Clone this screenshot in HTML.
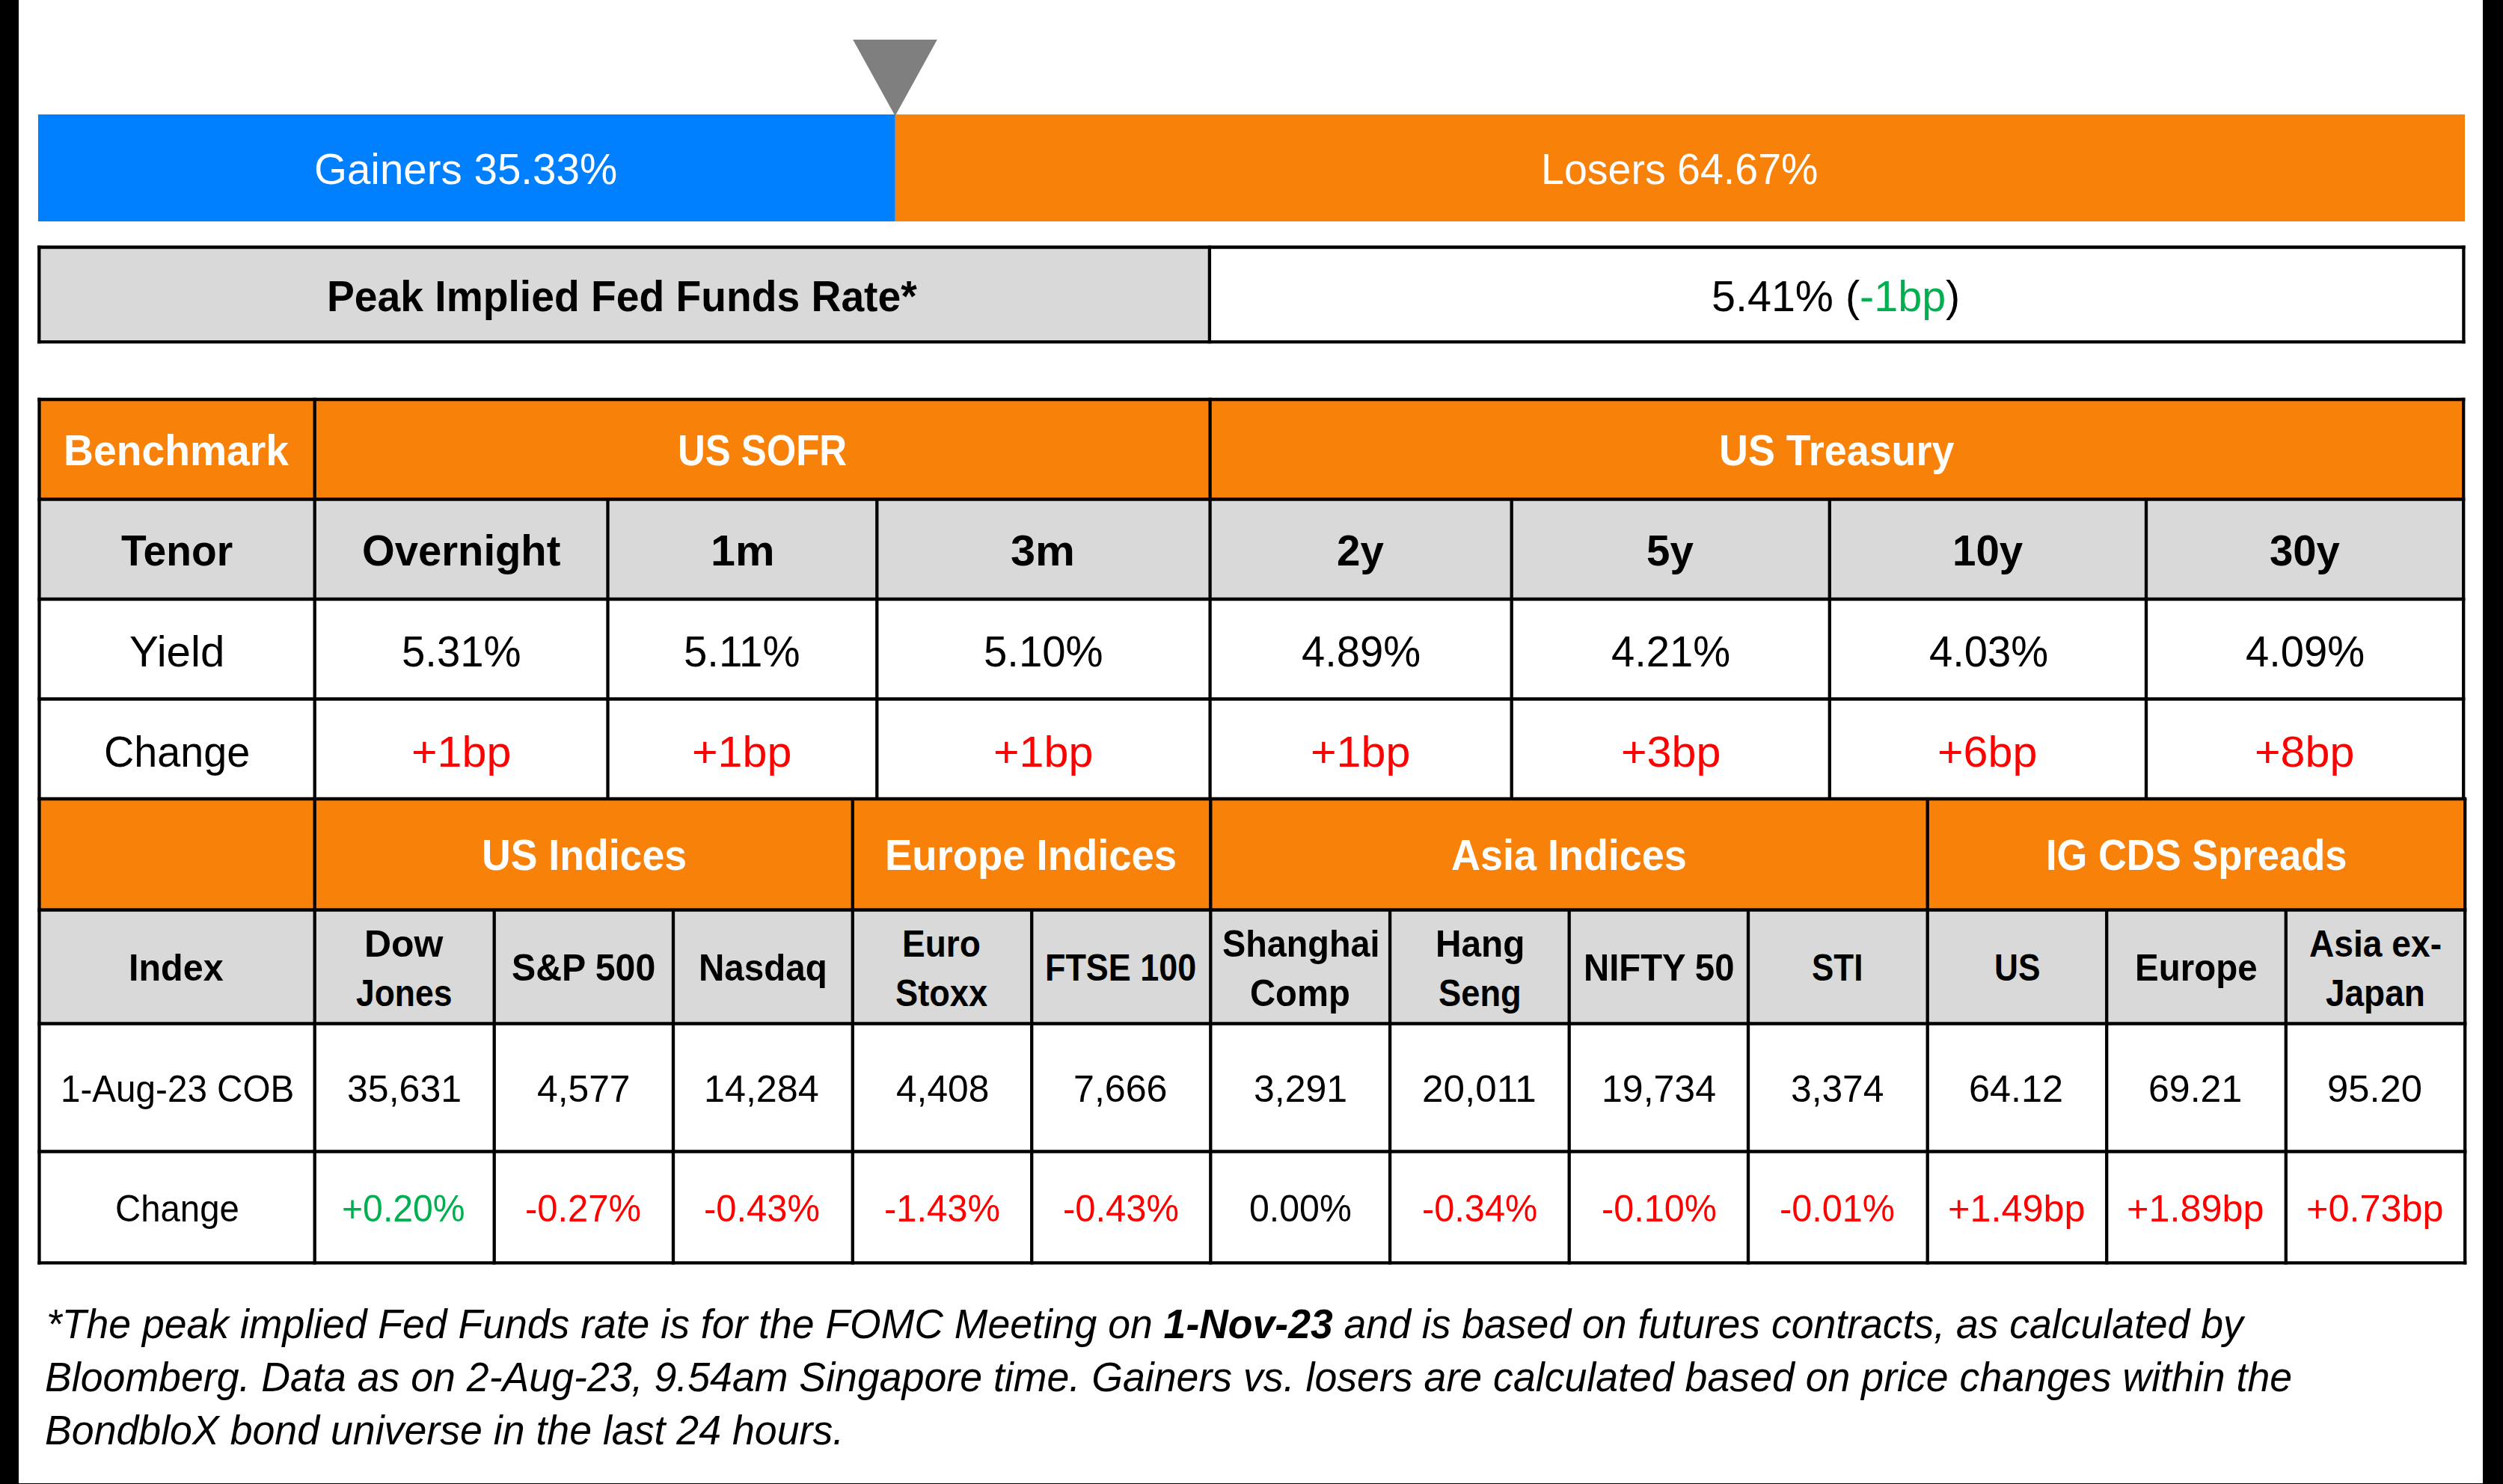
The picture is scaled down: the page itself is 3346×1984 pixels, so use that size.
<!DOCTYPE html>
<html><head><meta charset="utf-8"><title>Market summary</title>
<style>
html,body{margin:0;padding:0;background:#fff}
body{width:3346px;height:1984px;position:relative;overflow:hidden;font-family:"Liberation Sans",sans-serif;color:#000}
svg{position:absolute;left:0;top:0}
.t{position:absolute;white-space:nowrap;line-height:1;transform-origin:0 0;font-weight:400}
.b{font-weight:700}.i{font-style:italic}.w{color:#fff}.g{color:#00B050}.r{color:#FF0000}
</style></head>
<body>
<svg width="3346" height="1984" viewBox="0 0 3346 1984">
<rect x="0.00" y="0.00" width="25.00" height="1984.00" fill="#000"/>
<rect x="3319.00" y="0.00" width="27.00" height="1984.00" fill="#000"/>
<rect x="0.00" y="1983.00" width="3346.00" height="1.00" fill="#000"/>
<rect x="51.00" y="153.00" width="1145.80" height="143.00" fill="#0080FF"/>
<rect x="1196.80" y="153.00" width="2098.20" height="143.00" fill="#F8810A"/>
<polygon points="1140.2,53 1252.8,53 1196.6,155" fill="#7F7F7F"/>
<rect x="52.30" y="330.50" width="1564.60" height="126.60" fill="#D9D9D9"/>
<rect x="52.50" y="534.00" width="3240.70" height="133.50" fill="#F8810A"/>
<rect x="52.50" y="667.50" width="3240.70" height="133.50" fill="#D9D9D9"/>
<rect x="52.50" y="1068.00" width="3242.70" height="148.50" fill="#F8810A"/>
<rect x="52.50" y="1216.50" width="3242.70" height="152.00" fill="#D9D9D9"/>
<g stroke="#000" stroke-width="4.3" fill="none" stroke-linecap="butt">
<path d="M50.15 330.50L3295.55 330.50"/>
<path d="M50.15 457.10L3295.55 457.10"/>
<path d="M52.30 328.35L52.30 459.25"/>
<path d="M1616.90 328.35L1616.90 459.25"/>
<path d="M3293.40 328.35L3293.40 459.25"/>
<path d="M50.35 534.00L3295.35 534.00"/>
<path d="M50.35 667.50L3295.35 667.50"/>
<path d="M50.35 801.00L3295.35 801.00"/>
<path d="M50.35 934.50L3295.35 934.50"/>
<path d="M50.35 1068.00L3297.35 1068.00"/>
<path d="M52.50 531.85L52.50 1068.00"/>
<path d="M420.70 531.85L420.70 1068.00"/>
<path d="M812.50 667.50L812.50 1068.00"/>
<path d="M1172.30 667.50L1172.30 1068.00"/>
<path d="M1617.60 531.85L1617.60 1068.00"/>
<path d="M2020.70 667.50L2020.70 1068.00"/>
<path d="M2445.80 667.50L2445.80 1068.00"/>
<path d="M2869.00 667.50L2869.00 1068.00"/>
<path d="M3293.20 531.85L3293.20 1068.00"/>
<path d="M50.35 1216.50L3297.35 1216.50"/>
<path d="M50.35 1368.50L3297.35 1368.50"/>
<path d="M50.35 1539.50L3297.35 1539.50"/>
<path d="M50.35 1688.30L3297.35 1688.30"/>
<path d="M52.50 1068.00L52.50 1690.45"/>
<path d="M420.70 1068.00L420.70 1690.45"/>
<path d="M660.70 1216.50L660.70 1690.45"/>
<path d="M900.00 1216.50L900.00 1690.45"/>
<path d="M1139.80 1068.00L1139.80 1690.45"/>
<path d="M1379.20 1216.50L1379.20 1690.45"/>
<path d="M1618.30 1068.00L1618.30 1690.45"/>
<path d="M1858.10 1216.50L1858.10 1690.45"/>
<path d="M2097.70 1216.50L2097.70 1690.45"/>
<path d="M2337.00 1216.50L2337.00 1690.45"/>
<path d="M2576.70 1068.00L2576.70 1690.45"/>
<path d="M2816.20 1216.50L2816.20 1690.45"/>
<path d="M3055.80 1216.50L3055.80 1690.45"/>
<path d="M3295.20 1068.00L3295.20 1690.45"/>
</g>
</svg>
<div class="t w" style="left:420.45px;top:197px;font-size:58px;transform:scaleX(0.9741)">Gainers 35.33%</div>
<div class="t w" style="left:2060.48px;top:197px;font-size:58px;transform:scaleX(0.9574)">Losers 64.67%</div>
<div class="t b" style="left:437.48px;top:367px;font-size:58px;transform:scaleX(0.9522)">Peak Implied Fed Funds Rate*</div>
<div class="t" style="left:2288.31px;top:367px;font-size:58px;transform:scaleX(0.9909)">5.41% (<span class="g">-1bp</span>)</div>
<div class="t b w" style="left:85.08px;top:573px;font-size:58px;transform:scaleX(0.9529)">Benchmark</div>
<div class="t b w" style="left:906.19px;top:573px;font-size:58px;transform:scaleX(0.8767)">US SOFR</div>
<div class="t b w" style="left:2298.06px;top:573px;font-size:58px;transform:scaleX(0.9289)">US Treasury</div>
<div class="t b" style="left:161.73px;top:707px;font-size:58px;transform:scaleX(0.9509)">Tenor</div>
<div class="t b" style="left:484.02px;top:707px;font-size:58px;transform:scaleX(0.9687)">Overnight</div>
<div class="t b" style="left:949.59px;top:707px;font-size:58px;transform:scaleX(1.0192)">1m</div>
<div class="t b" style="left:1351.25px;top:707px;font-size:58px;transform:scaleX(1.0252)">3m</div>
<div class="t b" style="left:1787.38px;top:707px;font-size:58px;transform:scaleX(0.9727)">2y</div>
<div class="t b" style="left:2200.89px;top:707px;font-size:58px;transform:scaleX(0.9738)">5y</div>
<div class="t b" style="left:2610.21px;top:707px;font-size:58px;transform:scaleX(0.9732)">10y</div>
<div class="t b" style="left:3033.71px;top:707px;font-size:58px;transform:scaleX(0.9706)">30y</div>
<div class="t" style="left:173.35px;top:842px;font-size:58px;transform:scaleX(1.0037)">Yield</div>
<div class="t" style="left:536.69px;top:842px;font-size:58px;transform:scaleX(0.9706)">5.31%</div>
<div class="t" style="left:914.18px;top:842px;font-size:58px;transform:scaleX(0.9711)">5.11%</div>
<div class="t" style="left:1315.09px;top:842px;font-size:58px;transform:scaleX(0.9706)">5.10%</div>
<div class="t" style="left:1739.61px;top:842px;font-size:58px;transform:scaleX(0.9681)">4.89%</div>
<div class="t" style="left:2154.00px;top:842px;font-size:58px;transform:scaleX(0.9681)">4.21%</div>
<div class="t" style="left:2578.60px;top:842px;font-size:58px;transform:scaleX(0.9681)">4.03%</div>
<div class="t" style="left:3002.41px;top:842px;font-size:58px;transform:scaleX(0.9681)">4.09%</div>
<div class="t" style="left:138.70px;top:976px;font-size:58px;transform:scaleX(0.9607)">Change</div>
<div class="t r" style="left:549.94px;top:976px;font-size:58px;transform:scaleX(1.0204)">+1bp</div>
<div class="t r" style="left:925.13px;top:976px;font-size:58px;transform:scaleX(1.0204)">+1bp</div>
<div class="t r" style="left:1328.33px;top:976px;font-size:58px;transform:scaleX(1.0204)">+1bp</div>
<div class="t r" style="left:1752.13px;top:976px;font-size:58px;transform:scaleX(1.0204)">+1bp</div>
<div class="t r" style="left:2166.53px;top:976px;font-size:58px;transform:scaleX(1.0204)">+3bp</div>
<div class="t r" style="left:2590.13px;top:976px;font-size:58px;transform:scaleX(1.0204)">+6bp</div>
<div class="t r" style="left:3013.93px;top:976px;font-size:58px;transform:scaleX(1.0204)">+8bp</div>
<div class="t b w" style="left:643.52px;top:1114px;font-size:58px;transform:scaleX(0.9240)">US Indices</div>
<div class="t b w" style="left:1183.08px;top:1114px;font-size:58px;transform:scaleX(0.9383)">Europe Indices</div>
<div class="t b w" style="left:1939.94px;top:1114px;font-size:58px;transform:scaleX(0.9302)">Asia Indices</div>
<div class="t b w" style="left:2734.54px;top:1114px;font-size:58px;transform:scaleX(0.9046)">IG CDS Spreads</div>
<div class="t b" style="left:172.49px;top:1269px;font-size:49.5px;transform:scaleX(0.9794)">Index</div>
<div class="t b" style="left:487.12px;top:1237px;font-size:49.5px;transform:scaleX(1.0096)">Dow</div>
<div class="t b" style="left:476.13px;top:1303px;font-size:49.5px;transform:scaleX(0.8978)">Jones</div>
<div class="t b" style="left:683.96px;top:1269px;font-size:49.5px;transform:scaleX(0.9747)">S&amp;P 500</div>
<div class="t b" style="left:933.53px;top:1269px;font-size:49.5px;transform:scaleX(0.9607)">Nasdaq</div>
<div class="t b" style="left:1205.93px;top:1237px;font-size:49.5px;transform:scaleX(0.9295)">Euro</div>
<div class="t b" style="left:1197.00px;top:1303px;font-size:49.5px;transform:scaleX(0.9126)">Stoxx</div>
<div class="t b" style="left:1397.40px;top:1269px;font-size:49.5px;transform:scaleX(0.9069)">FTSE 100</div>
<div class="t b" style="left:1633.77px;top:1237px;font-size:49.5px;transform:scaleX(0.9446)">Shanghai</div>
<div class="t b" style="left:1671.41px;top:1303px;font-size:49.5px;transform:scaleX(0.9544)">Comp</div>
<div class="t b" style="left:1918.87px;top:1237px;font-size:49.5px;transform:scaleX(0.9649)">Hang</div>
<div class="t b" style="left:1923.19px;top:1303px;font-size:49.5px;transform:scaleX(0.9148)">Seng</div>
<div class="t b" style="left:2117.01px;top:1269px;font-size:49.5px;transform:scaleX(0.9550)">NIFTY 50</div>
<div class="t b" style="left:2422.03px;top:1269px;font-size:49.5px;transform:scaleX(0.8874)">STI</div>
<div class="t b" style="left:2665.80px;top:1269px;font-size:49.5px;transform:scaleX(0.8933)">US</div>
<div class="t b" style="left:2854.15px;top:1269px;font-size:49.5px;transform:scaleX(0.9591)">Europe</div>
<div class="t b" style="left:3086.65px;top:1237px;font-size:49.5px;transform:scaleX(0.9323)">Asia ex-</div>
<div class="t b" style="left:3108.79px;top:1303px;font-size:49.5px;transform:scaleX(0.9283)">Japan</div>
<div class="t" style="left:80.66px;top:1431px;font-size:49.5px;transform:scaleX(0.9619)">1-Aug-23 COB</div>
<div class="t" style="left:464.05px;top:1431px;font-size:49.5px;transform:scaleX(1.0109)">35,631</div>
<div class="t" style="left:717.51px;top:1431px;font-size:49.5px;transform:scaleX(1.0055)">4,577</div>
<div class="t" style="left:940.92px;top:1431px;font-size:49.5px;transform:scaleX(1.0154)">14,284</div>
<div class="t" style="left:1197.52px;top:1431px;font-size:49.5px;transform:scaleX(1.0034)">4,408</div>
<div class="t" style="left:1435.28px;top:1431px;font-size:49.5px;transform:scaleX(1.0131)">7,666</div>
<div class="t" style="left:1676.05px;top:1431px;font-size:49.5px;transform:scaleX(1.0098)">3,291</div>
<div class="t" style="left:1900.62px;top:1431px;font-size:49.5px;transform:scaleX(1.0341)">20,011</div>
<div class="t" style="left:2140.81px;top:1431px;font-size:49.5px;transform:scaleX(1.0103)">19,734</div>
<div class="t" style="left:2394.06px;top:1431px;font-size:49.5px;transform:scaleX(1.0035)">3,374</div>
<div class="t" style="left:2632.46px;top:1431px;font-size:49.5px;transform:scaleX(1.0171)">64.12</div>
<div class="t" style="left:2871.90px;top:1431px;font-size:49.5px;transform:scaleX(1.0109)">69.21</div>
<div class="t" style="left:3111.46px;top:1431px;font-size:49.5px;transform:scaleX(1.0250)">95.20</div>
<div class="t" style="left:154.35px;top:1591px;font-size:49.5px;transform:scaleX(0.9560)">Change</div>
<div class="t g" style="left:457.36px;top:1591px;font-size:49.5px;transform:scaleX(0.9727)">+0.20%</div>
<div class="t r" style="left:702.03px;top:1591px;font-size:49.5px;transform:scaleX(0.9884)">-0.27%</div>
<div class="t r" style="left:941.43px;top:1591px;font-size:49.5px;transform:scaleX(0.9884)">-0.43%</div>
<div class="t r" style="left:1181.82px;top:1591px;font-size:49.5px;transform:scaleX(0.9884)">-1.43%</div>
<div class="t r" style="left:1420.82px;top:1591px;font-size:49.5px;transform:scaleX(0.9884)">-0.43%</div>
<div class="t" style="left:1669.93px;top:1591px;font-size:49.5px;transform:scaleX(0.9748)">0.00%</div>
<div class="t r" style="left:1900.86px;top:1591px;font-size:49.5px;transform:scaleX(0.9838)">-0.34%</div>
<div class="t r" style="left:2140.90px;top:1591px;font-size:49.5px;transform:scaleX(0.9806)">-0.10%</div>
<div class="t r" style="left:2379.28px;top:1591px;font-size:49.5px;transform:scaleX(0.9819)">-0.01%</div>
<div class="t r" style="left:2603.56px;top:1591px;font-size:49.5px;transform:scaleX(1.0177)">+1.49bp</div>
<div class="t r" style="left:2843.35px;top:1591px;font-size:49.5px;transform:scaleX(1.0182)">+1.89bp</div>
<div class="t r" style="left:3083.36px;top:1591px;font-size:49.5px;transform:scaleX(1.0177)">+0.73bp</div>
<div class="t i" style="left:62.16px;top:1743px;font-size:55px;transform:scaleX(0.9733)"><span class="i">*The peak implied Fed Funds rate is for the FOMC Meeting on </span><span class="i b">1-Nov-23</span><span class="i"> and is based on futures contracts, as calculated by</span></div>
<div class="t i" style="left:60.20px;top:1814px;font-size:55px;transform:scaleX(0.9758)">Bloomberg. Data as on 2-Aug-23, 9.54am Singapore time. Gainers vs. losers are calculated based on price changes within the</div>
<div class="t i" style="left:60.20px;top:1885px;font-size:55px;transform:scaleX(0.9758)">BondbloX bond universe in the last 24 hours.</div>
</body></html>
